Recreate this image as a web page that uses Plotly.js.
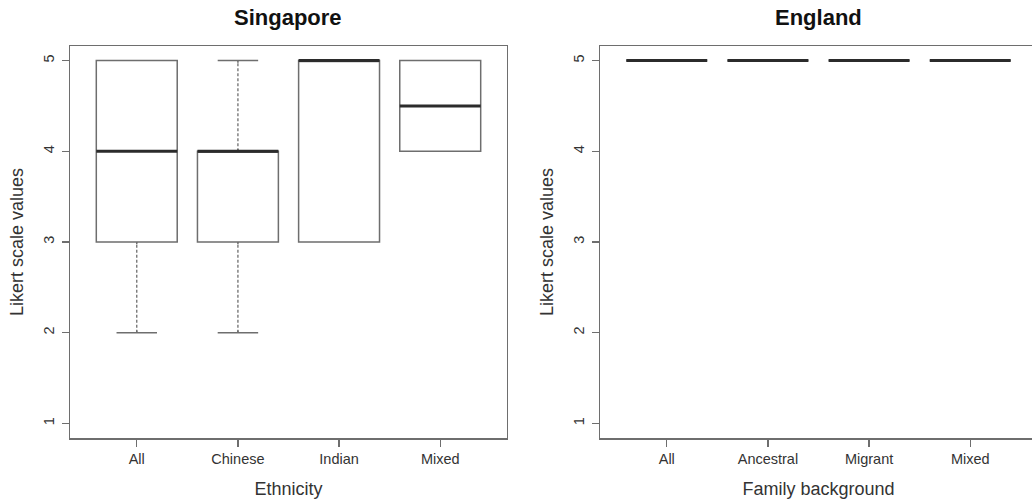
<!DOCTYPE html>
<html>
<head>
<meta charset="utf-8">
<script src="https://cdn.plot.ly/plotly-3.0.1.min.js"></script>
<style>html,body{margin:0;padding:0;overflow:hidden;background:#fff;}#chart{width:1040px;height:504px;}</style>
</head>
<body>
<div id="chart"></div>
<script>
// Singapore panel
const sgCategories = ["All", "Chinese", "Indian", "Mixed"];
const sgLower  = [2, 2, 3, 4];
const sgQ1     = [3, 3, 3, 4];
const sgMedian = [4, 4, 5, 4.5];
const sgQ3     = [5, 4, 5, 5];
const sgUpper  = [5, 5, 5, 5];

// England panel
const enCategories = ["All", "Ancestral", "Migrant", "Mixed"];
const enLower  = [5, 5, 5, 5];
const enQ1     = [5, 5, 5, 5];
const enMedian = [5, 5, 5, 5];
const enQ3     = [5, 5, 5, 5];
const enUpper  = [5, 5, 5, 5];

const yTicks = [1, 2, 3, 4, 5];

const BOXW = 0.8;
const BORDER = '#6e6e6e';
const MED = '#2b2b2b';
const FONT = 'Liberation Sans, Arial, sans-serif';

function panelTraces(cats, lo, q1, med, q3, up, xa, ya) {
  const traces = [];
  cats.forEach((c, i) => {
    const pos = i + 1;
    traces.push({
      type: 'box', x: [pos], q1: [q1[i]], median: [med[i]], q3: [q3[i]],
      lowerfence: [lo[i]], upperfence: [up[i]], width: BOXW, whiskerwidth: 0.5,
      fillcolor: 'rgba(255,255,255,0)', line: {color: BORDER, width: 1.5},
      boxpoints: false, xaxis: xa, yaxis: ya, hoverinfo: 'skip', name: c, showlegend: false
    });
  });
  // dashed whiskers (cover solid stems, then dashed)
  cats.forEach((c, i) => {
    const pos = i + 1;
    const segs = [];
    if (lo[i] < q1[i]) segs.push([lo[i], q1[i]]);
    if (up[i] > q3[i]) segs.push([q3[i], up[i]]);
    segs.forEach(s => {
      const eps = 0.025;
      traces.push({type: 'scatter', mode: 'lines', x: [pos, pos], y: [s[0] + eps, s[1] - eps],
        line: {color: '#ffffff', width: 3}, xaxis: xa, yaxis: ya, hoverinfo: 'skip', showlegend: false});
      traces.push({type: 'scatter', mode: 'lines', x: [pos, pos], y: [s[0], s[1]],
        line: {color: BORDER, width: 1.3, dash: '3px,2px'}, xaxis: xa, yaxis: ya, hoverinfo: 'skip', showlegend: false});
    });
  });
  // thick median lines
  cats.forEach((c, i) => {
    const pos = i + 1;
    traces.push({type: 'scatter', mode: 'lines', x: [pos - BOXW / 2, pos + BOXW / 2], y: [med[i], med[i]],
      line: {color: MED, width: 3}, xaxis: xa, yaxis: ya, hoverinfo: 'skip', showlegend: false});
  });
  return traces;
}

const data = [].concat(
  panelTraces(sgCategories, sgLower, sgQ1, sgMedian, sgQ3, sgUpper, 'x', 'y'),
  panelTraces(enCategories, enLower, enQ1, enMedian, enQ3, enUpper, 'x2', 'y2')
);

function xAxis(cats, domain, anchor, title) {
  return {
    domain: domain, anchor: anchor, range: [0.34, cats.length + 0.66],
    tickmode: 'array', tickvals: cats.map((c, i) => i + 1), ticktext: cats,
    ticks: 'outside', ticklen: 7, tickwidth: 1.2, tickcolor: BORDER,
    showline: true, mirror: true, linecolor: BORDER, linewidth: 1.5,
    showgrid: false, zeroline: false,
    tickfont: {family: FONT, size: 14.5, color: '#333'},
    title: {text: title, font: {family: FONT, size: 18, color: '#333'}, standoff: 16}
  };
}
function yAxis(domain, anchor) {
  return {
    domain: domain, anchor: anchor, range: [0.84, 5.16],
    tickmode: 'array', tickvals: yTicks, ticktext: yTicks.map(String), tickangle: -90,
    ticks: 'outside', ticklen: 7, tickwidth: 1.2, tickcolor: BORDER,
    showline: true, mirror: true, linecolor: BORDER, linewidth: 1.5,
    showgrid: false, zeroline: false, ticklabelstandoff: 2,
    tickfont: {family: FONT, size: 14.5, color: '#333'},
    title: {text: 'Likert scale values', font: {family: FONT, size: 18, color: '#333'}, standoff: 12}
  };
}

const layout = {
  width: 1040, height: 504,
  margin: {l: 70, r: 3, t: 46, b: 66},
  paper_bgcolor: '#fff', plot_bgcolor: '#fff',
  showlegend: false,
  xaxis: xAxis(sgCategories, [0, 0.4519], 'y', 'Ethnicity'),
  yaxis: yAxis([0, 1], 'x'),
  xaxis2: xAxis(enCategories, [0.5481, 1], 'y2', 'Family background'),
  yaxis2: yAxis([0, 1], 'x2'),
  annotations: [
    {text: '<b>Singapore</b>', xref: 'x domain', yref: 'paper', x: 0.5, y: 1, yanchor: 'middle', yshift: 29,
      showarrow: false, font: {family: FONT, size: 22, color: '#111'}},
    {text: '<b>England</b>', xref: 'x2 domain', yref: 'paper', x: 0.5, y: 1, yanchor: 'middle', yshift: 29,
      showarrow: false, font: {family: FONT, size: 22, color: '#111'}}
  ]
};

Plotly.newPlot('chart', data, layout, {staticPlot: true, displayModeBar: false});
</script>
</body>
</html>
